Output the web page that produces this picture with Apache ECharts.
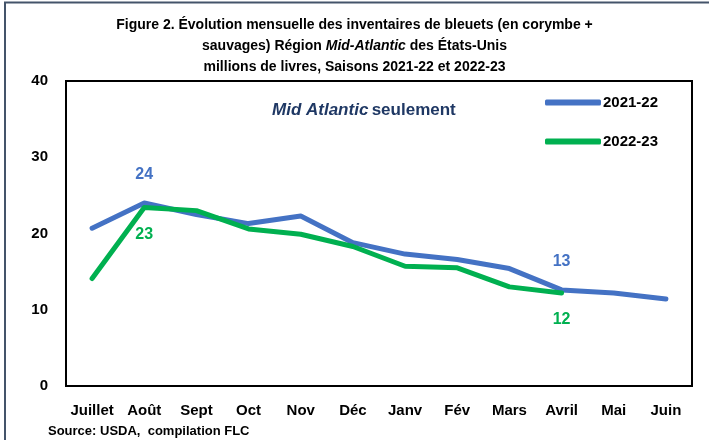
<!DOCTYPE html>
<html>
<head>
<meta charset="utf-8">
<script src="https://cdn.jsdelivr.net/npm/echarts@6/dist/echarts.min.js"></script>
<style>
  html, body { margin: 0; padding: 0; background: #fff; }
  #main { width: 709px; height: 440px; }
</style>
</head>
<body>
<div id="main"></div>
<script>
// mois de la saison (juillet -> juin)
var mois = ['Juillet', 'Août', 'Sept', 'Oct', 'Nov', 'Déc', 'Janv', 'Fév', 'Mars', 'Avril', 'Mai', 'Juin'];
// inventaires, millions de livres
var saison2122 = [20.7, 24.0, 22.5, 21.3, 22.3, 18.8, 17.3, 16.6, 15.4, 12.6, 12.2, 11.4];
var saison2223 = [14.1, 23.4, 23.0, 20.6, 19.9, 18.3, 15.7, 15.5, 13.0, 12.2];
// points étiquetés
var labels2122 = [1, 9];
var labels2223 = [1, 9];

var FONT = '"Liberation Sans", Arial, sans-serif';
var BLEU = '#4472C4';
var VERT = '#00B050';

function buildData(values, idx, pos, color) {
  return values.map(function (v, i) {
    if (idx.indexOf(i) < 0) return v;
    return {
      value: v,
      label: {
        show: true,
        position: pos,
        distance: pos == 'top' ? 20 : 19,
        color: color,
        fontFamily: FONT,
        fontWeight: 'bold',
        fontSize: 16,
        formatter: function (p) { return Math.round(p.value); }
      }
    };
  });
}

var myChart = echarts.init(document.getElementById('main'));

var option = {
  backgroundColor: '#fff',
  animation: false,
  title: {
    text: 'Figure 2. Évolution mensuelle des inventaires de bleuets (en corymbe +\n{n|sauvages) Région }{i|Mid-Atlantic}{n| des États-Unis}\nmillions de livres, Saisons 2021-22 et 2022-23',
    left: 'center',
    top: 10,
    textStyle: {
      fontFamily: FONT,
      fontWeight: 'bold',
      fontSize: 14,
      color: '#000',
      lineHeight: 21,
      rich: {
        n: { fontFamily: FONT, fontWeight: 'bold', fontSize: 14, color: '#000' },
        i: { fontFamily: FONT, fontWeight: 'bold', fontStyle: 'italic', fontSize: 14, color: '#000' }
      }
    }
  },
  legend: {
    orient: 'vertical',
    left: 540,
    top: 90,
    itemWidth: 56,
    itemHeight: 6,
    itemGap: 24,
    icon: 'roundRect',
    data: [
      { name: '2021-22', itemStyle: { color: BLEU } },
      { name: '2022-23', itemStyle: { color: VERT } }
    ],
    textStyle: {
      fontFamily: FONT,
      fontWeight: 'bold',
      fontSize: 15,
      color: '#000',
      padding: [0, 0, 0, -3]
    }
  },
  grid: {
    left: 66,
    top: 81,
    right: 17,
    bottom: 54,
    show: true,
    borderColor: '#000',
    borderWidth: 2
  },
  xAxis: {
    type: 'category',
    data: mois,
    boundaryGap: true,
    axisLine: { lineStyle: { color: '#000', width: 2 } },
    axisTick: { show: false },
    axisLabel: {
      interval: 0,
      margin: 17,
      fontFamily: FONT,
      fontWeight: 'bold',
      fontSize: 15,
      color: '#000'
    }
  },
  yAxis: {
    type: 'value',
    min: 0,
    max: 40,
    interval: 10,
    axisLine: { show: true, lineStyle: { color: '#000', width: 2 } },
    axisTick: { show: false },
    splitLine: { show: false },
    axisLabel: {
      margin: 18,
      fontFamily: FONT,
      fontWeight: 'bold',
      fontSize: 15,
      color: '#000'
    }
  },
  graphic: [
    {
      type: 'polyline',
      shape: { points: [[5, 440], [5, 2.5], [709, 2.5]] },
      style: { stroke: '#44546A', lineWidth: 2, fill: null },
      silent: true
    },
    {
      type: 'text',
      left: 272,
      top: 102,
      style: {
        text: '{i|Mid Atlantic} {n|seulement}',
        rich: {
          i: { fontFamily: FONT, fontWeight: 'bold', fontStyle: 'italic', fontSize: 17, fill: '#1F3864' },
          n: { fontFamily: FONT, fontWeight: 'bold', fontSize: 17, fill: '#1F3864' }
        }
      }
    },
    {
      type: 'text',
      left: 48,
      top: 425,
      style: {
        text: 'Source: USDA,  compilation FLC',
        fontFamily: FONT,
        fontWeight: 'bold',
        fontSize: 13,
        fill: '#000'
      }
    }
  ],
  series: [
    {
      name: '2021-22',
      type: 'line',
      showSymbol: true,
      symbol: 'circle',
      symbolSize: 0,
      color: BLEU,
      lineStyle: { width: 5, color: BLEU, cap: 'round', join: 'round' },
      data: buildData(saison2122, labels2122, 'top', BLEU)
    },
    {
      name: '2022-23',
      type: 'line',
      showSymbol: true,
      symbol: 'circle',
      symbolSize: 0,
      color: VERT,
      lineStyle: { width: 5, color: VERT, cap: 'round', join: 'round' },
      data: buildData(saison2223, labels2223, 'bottom', VERT)
    }
  ]
};

myChart.setOption(option);
</script>
</body>
</html>
